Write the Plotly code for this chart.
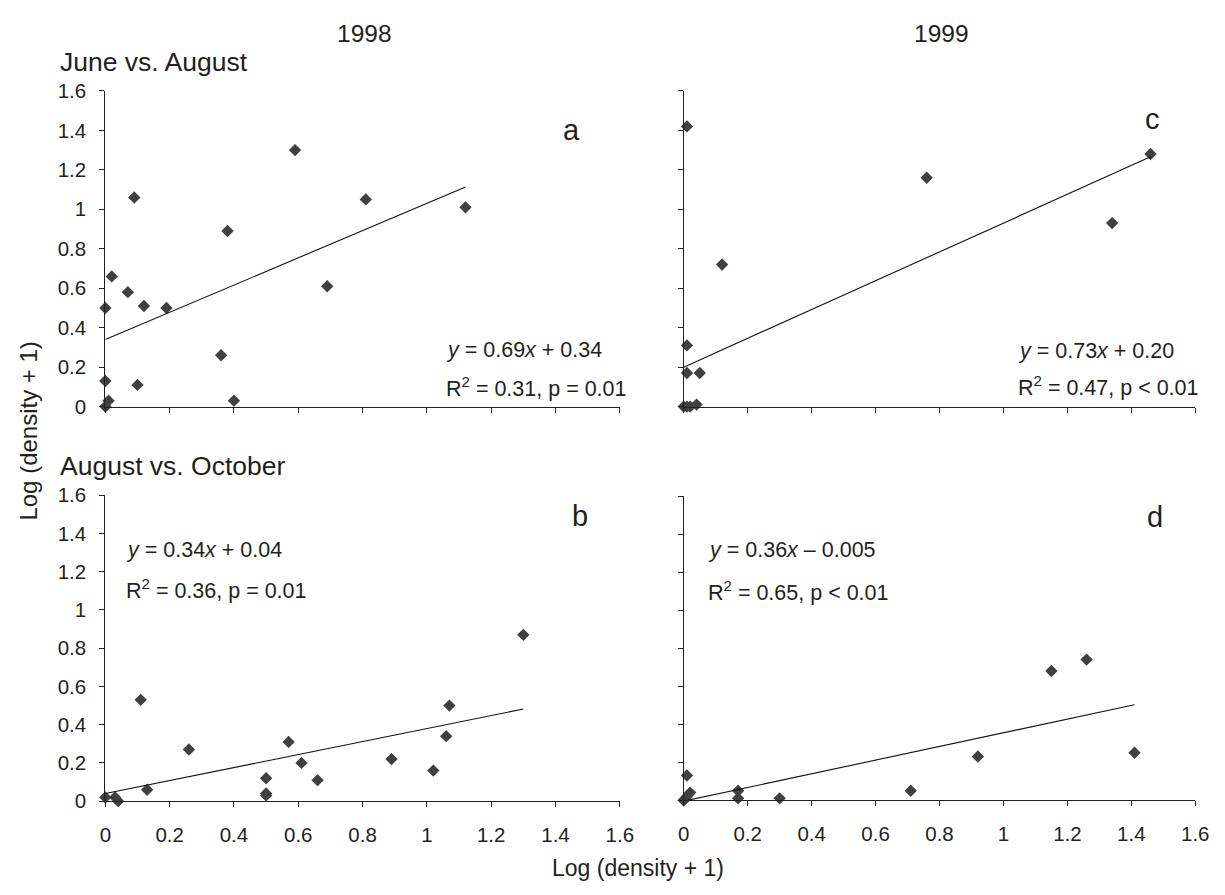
import plotly.graph_objects as go

# Panel a: 1998, June vs. August
a_x = [0.00, 0.01, 0.00, 0.00, 0.02, 0.07, 0.09, 0.10, 0.12, 0.19, 0.36, 0.38, 0.40, 0.59, 0.69, 0.81, 1.12]
a_y = [0.00, 0.03, 0.13, 0.50, 0.66, 0.58, 1.06, 0.11, 0.51, 0.50, 0.26, 0.89, 0.03, 1.30, 0.61, 1.05, 1.01]
a_fit = (0.69, 0.34)

# Panel b: 1998, August vs. October
b_x = [0.00, 0.03, 0.04, 0.11, 0.13, 0.26, 0.50, 0.50, 0.50, 0.57, 0.61, 0.66, 0.89, 1.02, 1.06, 1.07, 1.30]
b_y = [0.02, 0.02, 0.00, 0.53, 0.06, 0.27, 0.12, 0.04, 0.03, 0.31, 0.20, 0.11, 0.22, 0.16, 0.34, 0.50, 0.87]
b_fit = (0.34, 0.04)

# Panel c: 1999, June vs. August
c_x = [0.01, 0.76, 0.12, 0.01, 0.01, 0.05, 0.00, 0.01, 0.02, 0.04, 1.46, 1.34]
c_y = [1.42, 1.16, 0.72, 0.31, 0.17, 0.17, 0.00, 0.00, 0.00, 0.01, 1.28, 0.93]
c_fit = (0.73, 0.20)

# Panel d: 1999, August vs. October
d_x = [0.00, 0.00, 0.01, 0.02, 0.01, 0.17, 0.17, 0.30, 0.71, 0.92, 1.15, 1.26, 1.41]
d_y = [0.00, 0.00, 0.13, 0.04, 0.02, 0.05, 0.01, 0.01, 0.05, 0.23, 0.68, 0.74, 0.25]
d_fit = (0.36, -0.005)

eq_text = {
    "a": ("<i>y</i> = 0.69<i>x</i> + 0.34", "R<sup>2</sup> = 0.31, p = 0.01"),
    "b": ("<i>y</i> = 0.34<i>x</i> + 0.04", "R<sup>2</sup> = 0.36, p = 0.01"),
    "c": ("<i>y</i> = 0.73<i>x</i> + 0.20", "R<sup>2</sup> = 0.47, p < 0.01"),
    "d": ("<i>y</i> = 0.36<i>x</i> – 0.005", "R<sup>2</sup> = 0.65, p < 0.01"),
}

tick_vals = [0, 0.2, 0.4, 0.6, 0.8, 1.0, 1.2, 1.4, 1.6]
tick_text = ["0", "0.2", "0.4", "0.6", "0.8", "1", "1.2", "1.4", "1.6"]

FONT = "Liberation Sans, Arial, Helvetica, sans-serif"
TXT = "#231f20"
MARK = "#404040"

W, H = 1225, 895


def px(x):
    return x / W


def py(y):
    return 1 - y / H


# pixel boxes of the plot areas (left, right, top, bottom)
boxes = {
    "a": (101, 624, 81, 405),
    "b": (101, 624, 496, 810),
    "c": (689, 1209, 81, 405),
    "d": (689, 1209, 497, 809),
}
axis_ids = {"a": ("x", "y"), "b": ("x2", "y2"), "c": ("x3", "y3"), "d": ("x4", "y4")}
panels = {
    "a": (a_x, a_y, a_fit),
    "b": (b_x, b_y, b_fit),
    "c": (c_x, c_y, c_fit),
    "d": (d_x, d_y, d_fit),
}

fig = go.Figure()
layout = dict(
    width=W, height=H,
    margin=dict(l=0, r=0, t=0, b=0),
    paper_bgcolor="white", plot_bgcolor="white",
    showlegend=False,
    font=dict(family=FONT, color=TXT, size=20),
)

for key, (xs, ys, (m, c)) in panels.items():
    xa, ya = axis_ids[key]
    fig.add_trace(go.Scatter(
        x=xs, y=ys, mode="markers", xaxis=xa, yaxis=ya,
        marker=dict(symbol="diamond", size=9.5, color=MARK, line=dict(width=0)),
        cliponaxis=False,
    ))
    x0, x1 = min(xs), max(xs)
    fig.add_trace(go.Scatter(
        x=[x0, x1], y=[m * x0 + c, m * x1 + c], mode="lines",
        xaxis=xa, yaxis=ya, line=dict(color="#111111", width=1.1),
        cliponaxis=False,
    ))
    l, r, t, b = boxes[key]
    xname = "xaxis" if xa == "x" else "xaxis" + xa[1:]
    yname = "yaxis" if ya == "y" else "yaxis" + ya[1:]
    show_x_labels = key in ("b", "d")
    show_y_labels = key in ("a", "b")
    layout[xname] = dict(
        domain=[px(l), px(r)], anchor=ya, range=[0, 1.6],
        tickvals=tick_vals, ticktext=tick_text, showticklabels=show_x_labels,
        ticks="outside", ticklen=5, tickwidth=1.2, tickcolor=TXT,
        showline=True, linecolor=TXT, linewidth=1.2,
        showgrid=False, zeroline=False, ticklabelstandoff=10,
        tickfont=dict(size=20.5, color=TXT, family=FONT),
    )
    layout[yname] = dict(
        domain=[py(b), py(t)], anchor=xa, range=[0, 1.6],
        tickvals=tick_vals, ticktext=tick_text, showticklabels=show_y_labels,
        ticks="outside", ticklen=5, tickwidth=1.2, tickcolor=TXT,
        showline=True, linecolor=TXT, linewidth=1.2,
        showgrid=False, zeroline=False, ticklabelstandoff=9,
        tickfont=dict(size=20.5, color=TXT, family=FONT),
    )

fig.update_layout(**layout)

annos = []
# panel letters
letter_pos = {"a": (1.45, 1.40), "b": (1.476, 1.49), "c": (1.465, 1.46), "d": (1.474, 1.49)}
for key, (lx, ly) in letter_pos.items():
    xa, ya = axis_ids[key]
    annos.append(dict(text=key, x=lx, y=ly, xref=xa, yref=ya, showarrow=False,
                      xanchor="center", yanchor="middle", font=dict(size=29, color=TXT)))
# equations
eq_pos = {"a": (1.052, 0.286, 0.099), "c": (1.039, 0.282, 0.104),
          "b": (0.057, 1.314, 1.11), "d": (0.070, 1.317, 1.10)}
for key, (ex, ey1, ey2) in eq_pos.items():
    xa, ya = axis_ids[key]
    l1, l2 = eq_text[key]
    annos.append(dict(text=l1, x=ex, y=ey1, xref=xa, yref=ya, showarrow=False,
                      xanchor="left", yanchor="middle", font=dict(size=21.5, color=TXT)))
    annos.append(dict(text=l2, x=ex, y=ey2, xref=xa, yref=ya, showarrow=False,
                      xanchor="left", yanchor="middle", font=dict(size=21.5, color=TXT)))

# column / row headings
annos.append(dict(text="1998", x=px(364), y=py(22), xref="paper", yref="paper",
                  showarrow=False, xanchor="center", yanchor="middle", font=dict(size=24.5, color=TXT)))
annos.append(dict(text="1999", x=px(951), y=py(22), xref="paper", yref="paper",
                  showarrow=False, xanchor="center", yanchor="middle", font=dict(size=24.5, color=TXT)))
annos.append(dict(text="June vs. August", x=px(53), y=py(51), xref="paper", yref="paper",
                  showarrow=False, xanchor="left", yanchor="middle", font=dict(size=26.5, color=TXT)))
annos.append(dict(text="August vs. October", x=px(53), y=py(466), xref="paper", yref="paper",
                  showarrow=False, xanchor="left", yanchor="middle", font=dict(size=26.5, color=TXT)))
# axis titles
annos.append(dict(text="Log (density + 1)", x=px(23), y=py(430), xref="paper", yref="paper",
                  showarrow=False, xanchor="center", yanchor="middle", textangle=-90,
                  font=dict(size=24, color=TXT)))
annos.append(dict(text="Log (density + 1)", x=px(642), y=py(879), xref="paper", yref="paper",
                  showarrow=False, xanchor="center", yanchor="middle", font=dict(size=23, color=TXT)))

fig.update_layout(annotations=annos)
fig.write_html("out.html")
